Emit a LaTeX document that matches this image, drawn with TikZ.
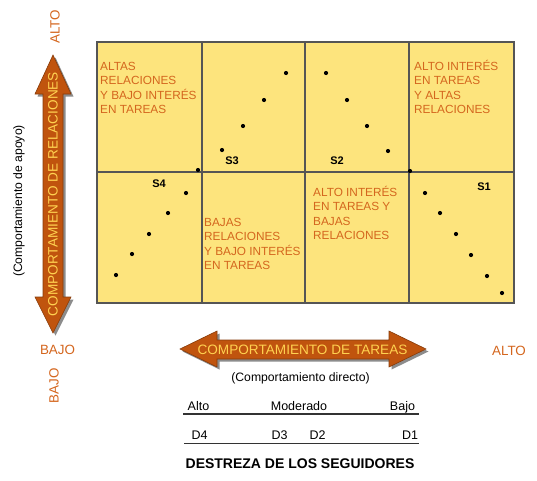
\documentclass[tikz,border=0pt]{standalone}
\usepackage{fontspec}
\setmainfont{Liberation Sans}
\definecolor{gridfill}{RGB}{253,228,125}
\definecolor{gridline}{RGB}{85,85,85}
\definecolor{orangetxt}{RGB}{212,102,30}
\definecolor{arrowfill}{RGB}{192,84,14}
\definecolor{arrowtxt}{RGB}{255,210,80}
\tikzset{
  quadtxt/.style={anchor=base west, inner sep=0pt, align=left, text=orangetxt, font=\fontsize{11.8}{14.5}\selectfont},
  sdot/.style={circle, fill=black, inner sep=0pt, minimum size=4.2pt},
  slabel/.style={inner sep=0pt, font=\fontsize{11}{13}\selectfont\bfseries},
  bigarrow/.style={fill=arrowfill, draw=arrowfill!70!black, line width=0.6pt},
  arrowshadow/.style={fill=black, opacity=0.45},
  arrowlabel/.style={inner sep=0pt, text=arrowtxt, font=\fontsize{13.6}{16}\selectfont},
  axislabel/.style={inner sep=0pt, text=orangetxt, font=\fontsize{13.4}{16}\selectfont},
  graytxt/.style={inner sep=0pt, font=\fontsize{12.2}{14}\selectfont},
  scaletxt/.style={inner sep=0pt, anchor=base, font=\fontsize{12.5}{14}\selectfont}
}
\begin{document}
\begin{tikzpicture}[x=1pt,y=-1pt]
\useasboundingbox (0,0) rectangle (537,480);
% grid
\fill[gridfill] (97,42) rectangle (514,303);
\draw[gridline, line width=1.3pt] (202,42) -- (202,303);
\draw[gridline, line width=1.3pt] (305,42) -- (305,303);
\draw[gridline, line width=1.3pt] (409,42) -- (409,303);
\draw[gridline, line width=1.3pt] (97,172) -- (514,172);
\draw[gridline, line width=1.8pt] (97,42) rectangle (514,303);
% quadrant texts (anchor = baseline of last line)
\node[quadtxt] (qa) at (100,113.5) {ALTAS\\RELACIONES\\Y BAJO INTERÉS\\EN TAREAS};
\node[quadtxt] (qb) at (414,113.5) {ALTO INTERÉS\\EN TAREAS\\Y ALTAS\\RELACIONES};
\node[quadtxt] (qc) at (313,239.5) {ALTO INTERÉS\\EN TAREAS Y\\BAJAS\\RELACIONES};
\node[quadtxt] (qd) at (204,269.5) {BAJAS\\RELACIONES\\Y BAJO INTERÉS\\EN TAREAS};
% dots S4 / S3
\node[sdot] (d1) at (116,275) {};
\node[sdot] (d2) at (132,254) {};
\node[sdot] (d3) at (149,234) {};
\node[sdot] (d4) at (168,213) {};
\node[sdot] (d5) at (186,193) {};
\node[sdot] (d6) at (198,170) {};
\node[sdot] (d7) at (222,150) {};
\node[sdot] (d8) at (243,126) {};
\node[sdot] (d9) at (264,100) {};
\node[sdot] (d10) at (286,73) {};
% dots S2 / S1
\node[sdot] (e1) at (326,73) {};
\node[sdot] (e2) at (347,100) {};
\node[sdot] (e3) at (367,126) {};
\node[sdot] (e4) at (388,151) {};
\node[sdot] (e5) at (410,171) {};
\node[sdot] (e6) at (425,193) {};
\node[sdot] (e7) at (440,213) {};
\node[sdot] (e8) at (456,234) {};
\node[sdot] (e9) at (471,255) {};
\node[sdot] (e10) at (487,276) {};
\node[sdot] (e11) at (502,293) {};
% style labels
\node[slabel] (s1) at (484,187) {S1};
\node[slabel] (s2) at (337,161) {S2};
\node[slabel] (s3) at (232,161) {S3};
\node[slabel] (s4) at (159,184) {S4};
% vertical arrow
\fill[arrowshadow] (55.5,57.5) -- (73.5,96.5) -- (65.5,96.5) -- (65.5,299.5) -- (73.5,299.5) -- (55.5,335.5) -- (37.5,299.5) -- (45.5,299.5) -- (45.5,96.5) -- (37.5,96.5) -- cycle;
\path[bigarrow] (53,55) -- (71,94) -- (63,94) -- (63,297) -- (71,297) -- (53,333) -- (35,297) -- (43,297) -- (43,94) -- (35,94) -- cycle;
\node[arrowlabel, rotate=90] (va) at (53,194) {COMPORTAMIENTO DE RELACIONES};
% horizontal arrow
\fill[arrowshadow] (182.5,351.5) -- (219.5,333.5) -- (219.5,342.5) -- (391.5,342.5) -- (391.5,333.5) -- (428.5,351.5) -- (391.5,369.5) -- (391.5,361.5) -- (219.5,361.5) -- (219.5,369.5) -- cycle;
\path[bigarrow] (180,349) -- (217,331) -- (217,340) -- (389,340) -- (389,331) -- (426,349) -- (389,367) -- (389,359) -- (217,359) -- (217,367) -- cycle;
\node[arrowlabel] (ha) at (302.5,349.5) {COMPORTAMIENTO DE TAREAS};
% axis labels
\node[axislabel, rotate=90] (altov) at (55,27) {ALTO};
\node[axislabel] (bajoh) at (57.5,349.5) {BAJO};
\node[axislabel, rotate=90] (bajov) at (54,386) {BAJO};
\node[axislabel] (altoh) at (509,350.5) {ALTO};
\node[graytxt, rotate=90] (apoyo) at (19,201) {(Comportamiento de apoyo)};
\node[graytxt] (directo) at (300.5,378.5) {(Comportamiento directo)};
% scale
\node[scaletxt] (alto) at (198.5,410) {Alto};
\node[scaletxt] (mod) at (299,410) {Moderado};
\node[scaletxt] (bajo) at (402.5,410) {Bajo};
\coordinate (l1a) at (183,414);
\coordinate (l1b) at (419,414);
\draw[line width=1.2pt, black!80] (l1a) -- (l1b);
\node[scaletxt] (dd4) at (199.5,439) {D4};
\node[scaletxt] (dd3) at (279.5,439) {D3};
\node[scaletxt] (dd2) at (317.5,439) {D2};
\node[scaletxt] (dd1) at (410,439) {D1};
\coordinate (l2a) at (184,443.5);
\coordinate (l2b) at (419,443.5);
\draw[line width=1.2pt, black!80] (l2a) -- (l2b);
\node[inner sep=0pt, anchor=base, font=\fontsize{14}{16}\selectfont\bfseries] (destreza) at (300,468) {DESTREZA DE LOS SEGUIDORES};
\end{tikzpicture}
\end{document}
